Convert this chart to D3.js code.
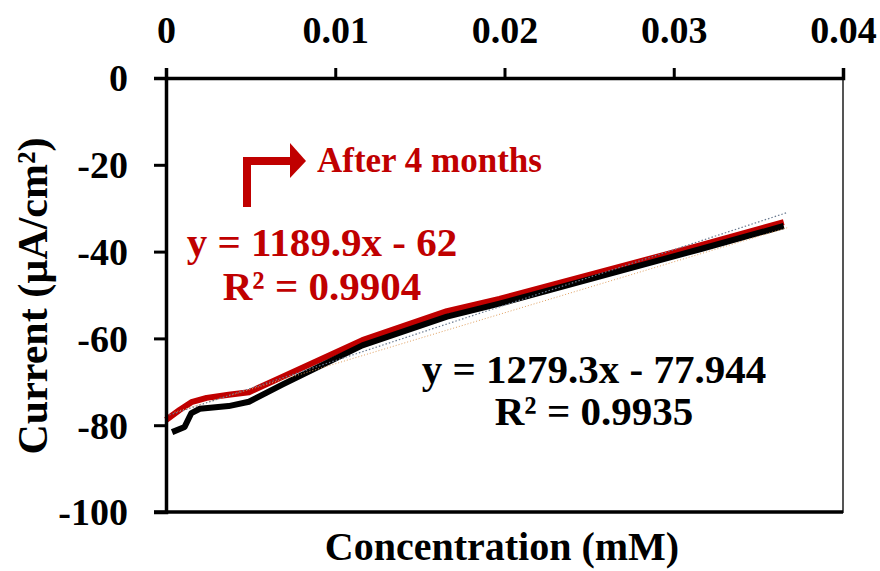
<!DOCTYPE html>
<html lang="en">
  <head>
    <meta charset="utf-8" />
    <title>Current vs concentration</title>
    <script src="https://cdn.jsdelivr.net/npm/d3@7"></script>
    <style>
      body { margin: 0; background: #fff; }
      text { font-family: "Liberation Serif", "Times New Roman", serif; font-weight: bold; }
    </style>
  </head>
  <body>
    <div id="chart"></div>
    <script type="text/javascript">
      // values
      const xTicks = [0, 0.01, 0.02, 0.03, 0.04];
      const yTicks = [0, -20, -40, -60, -80, -100];

      const blackConc = [0.00036, 0.0011, 0.0015, 0.002, 0.0037, 0.0049, 0.0069, 0.0116, 0.0166, 0.0197, 0.0316, 0.0365];
      const blackCurrent = [-81.6, -80.4, -77.2, -76.2, -75.6, -74.6, -70.6, -61.6, -55.0, -52.0, -39.4, -34.1];

      const redConc = [0, 0.0008, 0.0015, 0.0024, 0.0037, 0.0049, 0.0067, 0.0116, 0.0166, 0.0197, 0.0316, 0.0365];
      const redCurrent = [-78.8, -76.5, -74.7, -73.7, -73.0, -72.4, -69.2, -60.4, -53.7, -50.9, -38.5, -33.2];

      // dotted trend lines, two end points each
      const blackTrendConc = [0, 0.0367];
      const blackTrendCurrent = [-77.9, -31.0];
      const redTrendConc = [0.0005, 0.0367];
      const redTrendCurrent = [-77.0, -34.5];

      const red = "#c00000";

      const width = 880, height = 571;
      const svg = d3.select("#chart").append("svg")
        .attr("width", width).attr("height", height);

      const x = d3.scaleLinear().domain([0, 0.04]).range([166, 843]);
      const y = d3.scaleLinear().domain([-100, 0]).range([512, 78]);

      // plot area frame
      svg.append("rect")
        .attr("x", x(0)).attr("y", y(0))
        .attr("width", x(0.04) - x(0)).attr("height", y(-100) - y(0))
        .attr("fill", "none").attr("stroke", "#555").attr("stroke-width", 2);

      const line = d3.line().x(d => x(d[0])).y(d => y(d[1]));
      const zip = (a, b) => a.map((v, i) => [v, b[i]]);

      svg.append("path").datum(zip(redConc, redCurrent))
        .attr("d", line).attr("fill", "none")
        .attr("stroke", red).attr("stroke-width", 6).attr("stroke-linejoin", "round");
      svg.append("path").datum(zip(blackConc, blackCurrent))
        .attr("d", line).attr("fill", "none")
        .attr("stroke", "#000").attr("stroke-width", 6).attr("stroke-linejoin", "round");

      svg.append("path").datum(zip(redTrendConc, redTrendCurrent))
        .attr("d", line).attr("fill", "none")
        .attr("stroke", "#e0a060").attr("stroke-width", 1).attr("stroke-dasharray", "1,2");
      svg.append("path").datum(zip(blackTrendConc, blackTrendCurrent))
        .attr("d", line).attr("fill", "none")
        .attr("stroke", "#6a7a90").attr("stroke-width", 1.2).attr("stroke-dasharray", "1.5,2");

      // axes: x on top (crosses at 0), y on the left
      const xAxis = svg.append("g").attr("transform", `translate(0,${y(0)})`)
        .call(d3.axisTop(x).tickValues(xTicks).tickFormat(d => d === 0 ? "0" : d3.format(".2f")(d))
          .tickSize(10).tickPadding(25));
      const yAxis = svg.append("g").attr("transform", `translate(${x(0)},0)`)
        .call(d3.axisLeft(y).tickValues(yTicks).tickFormat(d => String(d)).tickSize(12).tickPadding(26));

      [xAxis, yAxis].forEach(g => {
        g.select(".domain").attr("stroke", "#000").attr("stroke-width", 3.5);
        g.selectAll(".tick line").attr("stroke", "#000").attr("stroke-width", 3);
        g.selectAll(".tick text").attr("fill", "#000").style("font-size", "38px")
          .style("font-family", "'Liberation Serif', serif").style("font-weight", "bold");
      });
      yAxis.selectAll(".tick text").attr("dy", "0.34em");

      // bottom edge drawn heavy like the axes
      svg.append("line")
        .attr("x1", x(0) - 12).attr("x2", x(0.04))
        .attr("y1", y(-100)).attr("y2", y(-100))
        .attr("stroke", "#000").attr("stroke-width", 3.5);

      // axis titles
      svg.append("text")
        .attr("x", 502).attr("y", 560)
        .attr("text-anchor", "middle").style("font-size", "40px")
        .text("Concentration (mM)");
      svg.append("text")
        .attr("transform", "translate(47,296) rotate(-90)")
        .attr("text-anchor", "middle").style("font-size", "42px")
        .text("Current (µA/cm²)");

      // equations
      svg.append("text").attr("x", 322).attr("y", 256)
        .attr("text-anchor", "middle").attr("fill", red).style("font-size", "41px")
        .text("y = 1189.9x - 62");
      svg.append("text").attr("x", 322).attr("y", 300)
        .attr("text-anchor", "middle").attr("fill", red).style("font-size", "41px")
        .text("R² = 0.9904");
      svg.append("text").attr("x", 594).attr("y", 383)
        .attr("text-anchor", "middle").attr("fill", "#000").style("font-size", "41px")
        .text("y = 1279.3x - 77.944");
      svg.append("text").attr("x", 594).attr("y", 425)
        .attr("text-anchor", "middle").attr("fill", "#000").style("font-size", "41px")
        .text("R² = 0.9935");

      // bent arrow and label
      svg.append("path")
        .attr("d", "M247,207 V161 H292")
        .attr("fill", "none").attr("stroke", red).attr("stroke-width", 8);
      svg.append("path")
        .attr("d", "M290,143 L306,161 L290,178 Z")
        .attr("fill", red);
      svg.append("text").attr("x", 317).attr("y", 172)
        .attr("fill", red).style("font-size", "35px")
        .text("After 4 months");
    </script>
  </body>
</html>
